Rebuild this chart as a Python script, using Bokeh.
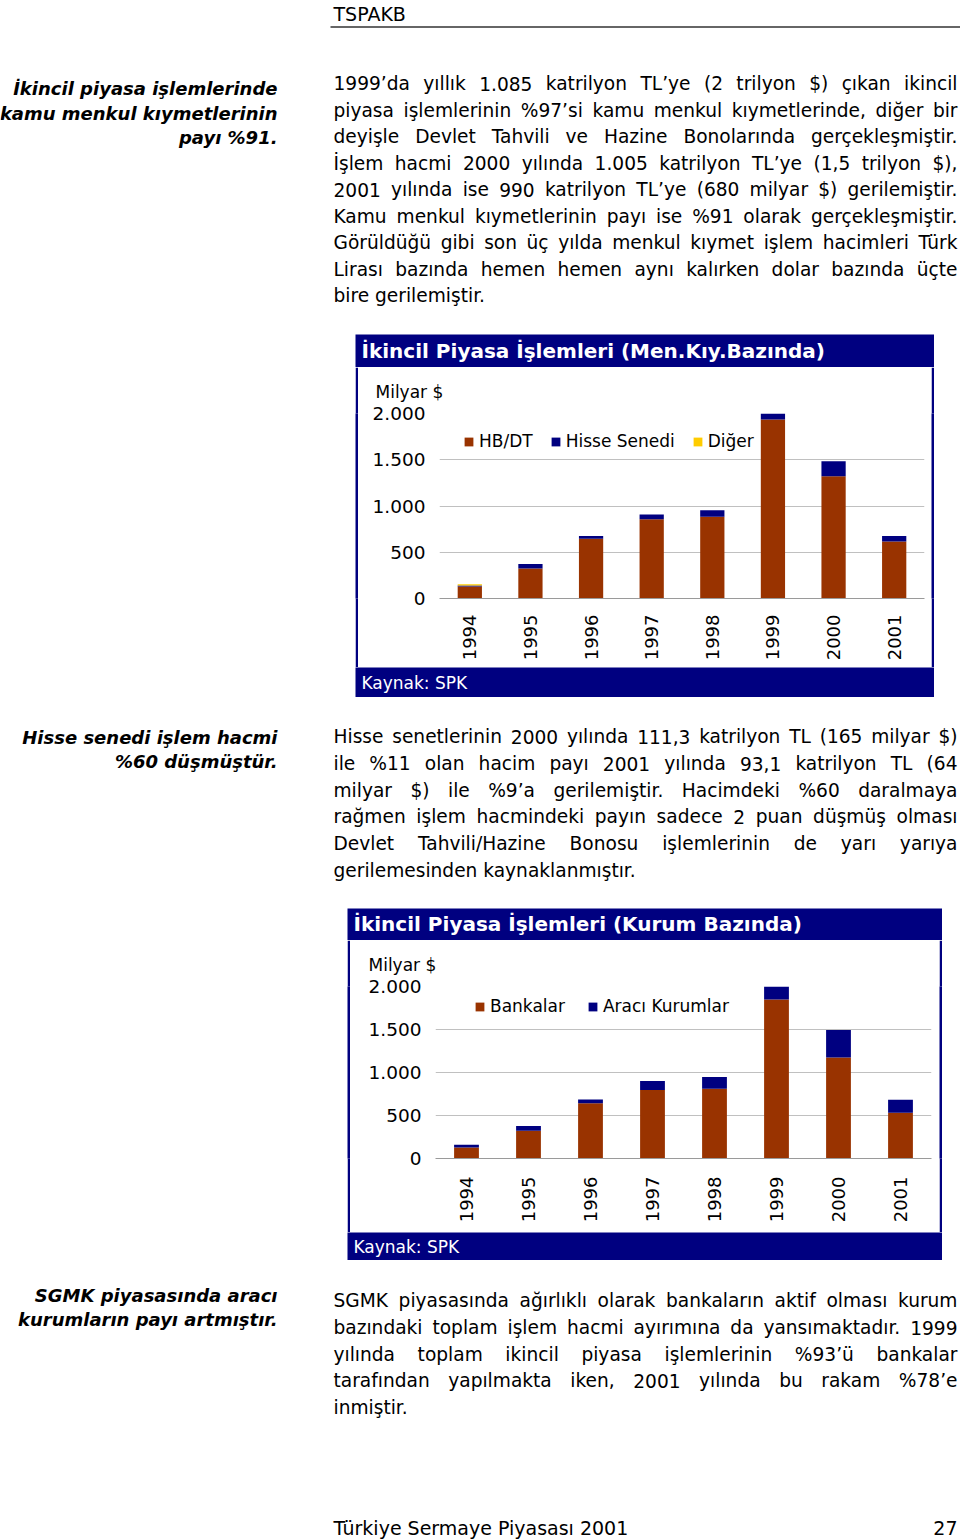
import glob
import math
import os
import subprocess

from bokeh.core.properties import value
from bokeh.embed import file_html
from bokeh.layouts import column, row
from bokeh.models import ColumnDataSource, FactorRange, FixedTicker, Range1d, Spacer
from bokeh.plotting import figure
from bokeh.resources import INLINE

# ---------------- data ----------------
years = ["1994", "1995", "1996", "1997", "1998", "1999", "2000", "2001"]

# Chart 1: İkincil Piyasa İşlemleri (Men.Kıy.Bazında), Milyar $
hbdt = [130, 323, 645, 857, 885, 1935, 1322, 616]
hisse_senedi = [10, 50, 32, 50, 68, 65, 162, 61]
diger = [14, 0, 0, 0, 0, 0, 0, 0]
chart1_series = ["HB/DT", "Hisse Senedi", "Diğer"]

# Chart 2: İkincil Piyasa İşlemleri (Kurum Bazında), Milyar $
bankalar = [128, 322, 641, 796, 812, 1848, 1173, 532]
araci_kurumlar = [31, 55, 46, 105, 135, 152, 322, 151]
chart2_series = ["Bankalar", "Aracı Kurumlar"]

y_ticks = [0, 500, 1000, 1500, 2000]
y_tick_labels = ["0", "500", "1.000", "1.500", "2.000"]

title1 = "İkincil Piyasa İşlemleri (Men.Kıy.Bazında)"
title2 = "İkincil Piyasa İşlemleri (Kurum Bazında)"
unit_label = "Milyar $"
source_label = "Kaynak: SPK"

para1 = [
    "1999’da yıllık 1.085 katrilyon TL’ye (2 trilyon $) çıkan ikincil",
    "piyasa işlemlerinin %97’si kamu menkul kıymetlerinde, diğer bir",
    "deyişle Devlet Tahvili ve Hazine Bonolarında gerçekleşmiştir.",
    "İşlem hacmi 2000 yılında 1.005 katrilyon TL’ye (1,5 trilyon $),",
    "2001 yılında ise 990 katrilyon TL’ye (680 milyar $) gerilemiştir.",
    "Kamu menkul kıymetlerinin payı ise %91 olarak gerçekleşmiştir.",
    "Görüldüğü gibi son üç yılda menkul kıymet işlem hacimleri Türk",
    "Lirası bazında hemen hemen aynı kalırken dolar bazında üçte",
    "bire gerilemiştir.",
]
side1 = ["İkincil piyasa işlemlerinde", "kamu menkul kıymetlerinin", "payı %91."]

para2 = [
    "Hisse senetlerinin 2000 yılında 111,3 katrilyon TL (165 milyar $)",
    "ile %11 olan hacim payı 2001 yılında 93,1 katrilyon TL (64",
    "milyar $) ile %9’a gerilemiştir. Hacimdeki %60 daralmaya",
    "rağmen işlem hacmindeki payın sadece 2 puan düşmüş olması",
    "Devlet Tahvili/Hazine Bonosu işlemlerinin de yarı yarıya",
    "gerilemesinden kaynaklanmıştır.",
]
side2 = ["Hisse senedi işlem hacmi", "%60 düşmüştür."]

para3 = [
    "SGMK piyasasında ağırlıklı olarak bankaların aktif olması kurum",
    "bazındaki toplam işlem hacmi ayırımına da yansımaktadır. 1999",
    "yılında toplam ikincil piyasa işlemlerinin %93’ü bankalar",
    "tarafından yapılmakta iken, 2001 yılında bu rakam %78’e",
    "inmiştir.",
]
side3 = ["SGMK piyasasında aracı", "kurumların payı artmıştır."]

header_text = "TSPAKB"
footer_left = "Türkiye Sermaye Piyasası 2001"
footer_right = "27"

# ---------------- style ----------------
FONT = "DejaVu Sans"
NAVY = "#000080"
BROWN = "#993300"
YELLOW = "#FFCC00"
GRID = "#c0c0c0"
BODY = 18.6
SIDE = 18


# ---------------- font measuring (for justified text) ----------------
def _find_font(fname, family, style):
    roots = ["/usr/share/fonts", "/usr/local/share/fonts",
             os.path.expanduser("~/.fonts"), os.path.expanduser("~/.local/share/fonts")]
    for r in roots:
        hits = glob.glob(os.path.join(r, "**", fname), recursive=True)
        if hits:
            return hits[0]
    try:
        out = subprocess.run(["fc-match", "-f", "%{file}", f"{family}:{style}"],
                             capture_output=True, text=True, timeout=10).stdout.strip()
        if out and os.path.exists(out) and "DejaVuSans" in os.path.basename(out):
            return out
    except Exception:
        pass
    return None


try:
    from PIL import ImageFont
    _fp = _find_font("DejaVuSans.ttf", "DejaVu Sans", "style=Book")
    MEAS = ImageFont.truetype(_fp, 100) if _fp else None
except Exception:
    MEAS = None


def text_width(s, size):
    return MEAS.getlength(s) * size / 100.0


# ---------------- helpers ----------------
def canvas(x0, x1, y0, y1, bg="white"):
    p = figure(width=x1 - x0, height=y1 - y0,
               x_range=Range1d(x0, x1), y_range=Range1d(y1, y0),
               output_backend="svg", toolbar_location=None,
               x_axis_type=None, y_axis_type=None, min_border=0,
               outline_line_color=None, background_fill_color=bg, border_fill_color=bg)
    return p


def put(p, xs, ys, texts, size, align="left", style="normal", color="black"):
    src = ColumnDataSource(dict(x=xs, y=ys, t=texts))
    p.text(x="x", y="y", text="t", source=src, text_font=value(FONT),
           text_font_size=f"{size}px", text_font_style=style, text_color=color,
           text_align=align, text_baseline="middle")


def paragraph(p, lines, ys, x0, x1, size):
    xs, yy, tt = [], [], []
    for i, (ln, y) in enumerate(zip(lines, ys)):
        words = ln.split()
        last = i == len(lines) - 1
        if MEAS is not None and not last and len(words) > 1:
            ws = [text_width(w, size) for w in words]
            gap = (x1 - x0 - sum(ws)) / (len(words) - 1)
            if gap > 0.15 * size:
                x = x0
                for w, wd in zip(words, ws):
                    xs.append(x)
                    yy.append(y)
                    tt.append(w)
                    x += wd + gap
                continue
        xs.append(x0)
        yy.append(y)
        tt.append(ln)
    put(p, xs, yy, tt, size)


def strip(h):
    return canvas(0, 3, 0, h, NAVY)


def bar_chart(x0, x1, y0, y1, fl, fr, ft, fb, data, names, colors, legend_xy,
              xstand, spacing, unit_x, unit_standoff):
    src = ColumnDataSource(dict(year=years, **data))
    p = figure(x_range=FactorRange(*years), y_range=Range1d(0, 2000),
               width=x1 - x0, height=y1 - y0, output_backend="svg",
               toolbar_location=None, min_border_left=fl - x0,
               min_border_right=x1 - fr, min_border_top=ft - y0,
               min_border_bottom=y1 - fb, outline_line_color=None,
               background_fill_color="white", border_fill_color="white",
               title=unit_label)
    p.title.align = "left"
    p.title.offset = unit_x - fl
    p.title.standoff = unit_standoff
    p.title.text_font = FONT
    p.title.text_font_size = "17px"
    p.title.text_font_style = "normal"
    p.title.text_color = "black"
    p.vbar_stack(list(data.keys()), x="year", width=0.4, fill_color=colors,
                 line_color=None, source=src, legend_label=names)
    p.yaxis.ticker = FixedTicker(ticks=y_ticks)
    p.yaxis.major_label_overrides = dict(zip(y_ticks, y_tick_labels))
    p.yaxis.axis_line_color = None
    p.yaxis.major_tick_line_color = None
    p.yaxis.minor_tick_line_color = None
    p.yaxis.major_tick_out = 0
    p.yaxis.major_tick_in = 0
    p.yaxis.major_label_standoff = 14
    p.yaxis.major_label_text_font = FONT
    p.yaxis.major_label_text_font_size = "18.5px"
    p.yaxis.major_label_text_color = "black"
    p.xaxis.major_label_orientation = math.pi / 2
    p.xaxis.major_tick_line_color = None
    p.xaxis.major_tick_out = 0
    p.xaxis.major_tick_in = 0
    p.xaxis.major_label_standoff = xstand
    p.xaxis.major_label_text_font = FONT
    p.xaxis.major_label_text_font_size = "18px"
    p.xaxis.major_label_text_color = "black"
    p.xaxis.axis_line_color = "#9a9a9a"
    p.xgrid.grid_line_color = None
    p.ygrid.grid_line_color = GRID
    lg = p.legend[0]
    lg.orientation = "horizontal"
    lg.location = legend_xy
    lg.border_line_color = None
    lg.background_fill_alpha = 0
    lg.padding = 0
    lg.margin = 0
    lg.spacing = spacing
    lg.glyph_width = 11
    lg.glyph_height = 11
    lg.label_standoff = 5
    lg.label_height = 20
    lg.label_text_font = FONT
    lg.label_text_font_size = "17px"
    lg.label_text_color = "black"
    return p


W = 960

# ---------------- page section A (y 0..334) ----------------
figA = canvas(0, W, 0, 334)
put(figA, [333], [13], [header_text], 19)
figA.segment(x0=[330], y0=[26.5], x1=[W], y1=[26.5], line_color="#333333", line_width=1.5)
put(figA, [277] * 3, [88, 112.5, 137], side1, SIDE, align="right", style="bold italic")
paragraph(figA, para1, [83, 109.5, 136, 162.5, 189, 215.5, 242, 268.5, 295], 333, 957, BODY)

# ---------------- chart 1 box (x 355..934, y 334..697) ----------------
t1 = canvas(355, 934, 334, 367, NAVY)
put(t1, [361], [350.5], [title1], 20, style="bold", color="white")
c1 = bar_chart(358, 931, 367, 667, 439, 924, 412, 598,
               {"hbdt": hbdt, "hisse": hisse_senedi, "diger": diger},
               chart1_series, [BROWN, NAVY, YELLOW], (24, 147), 16, 17, 375, 24)
f1 = canvas(355, 934, 667, 697, NAVY)
put(f1, [361], [682], [source_label], 17, color="white")
box1 = column(t1, row(strip(300), c1, strip(300)), f1)
row1 = row(Spacer(width=355, height=363), box1, Spacer(width=W - 355 - 579, height=363))

# ---------------- page section B (y 697..908) ----------------
figB = canvas(0, W, 697, 908)
put(figB, [277] * 2, [737, 761], side2, SIDE, align="right", style="bold italic")
paragraph(figB, para2, [736, 763, 789.5, 816, 843, 869.5], 333, 957, BODY)

# ---------------- chart 2 box (x 347..942, y 908..1260) ----------------
t2 = canvas(347, 942, 908, 940, NAVY)
put(t2, [353], [923.5], [title2], 20, style="bold", color="white")
c2 = bar_chart(350, 939, 940, 1232, 435, 931, 986, 1158,
               {"bankalar": bankalar, "araci": araci_kurumlar},
               chart2_series, [BROWN, NAVY], (39, 142), 18, 22, 368, 23)
f2 = canvas(347, 942, 1232, 1260, NAVY)
put(f2, [353], [1246], [source_label], 17, color="white")
box2 = column(t2, row(strip(292), c2, strip(292)), f2)
row2 = row(Spacer(width=347, height=352), box2, Spacer(width=W - 347 - 595, height=352))

# ---------------- page section C (y 1260..1540) ----------------
figC = canvas(0, W, 1260, 1540)
put(figC, [277] * 2, [1295, 1319], side3, SIDE, align="right", style="bold italic")
paragraph(figC, para3, [1300, 1327, 1353.5, 1380, 1406.5], 333, 957, BODY)
put(figC, [333], [1527], [footer_left], 19)
put(figC, [957], [1527], [footer_right], 19, align="right")

page = column(figA, row1, figB, row2, figC)
open("out.html", "w").write(file_html(page, INLINE, title="TSPAKB"))
